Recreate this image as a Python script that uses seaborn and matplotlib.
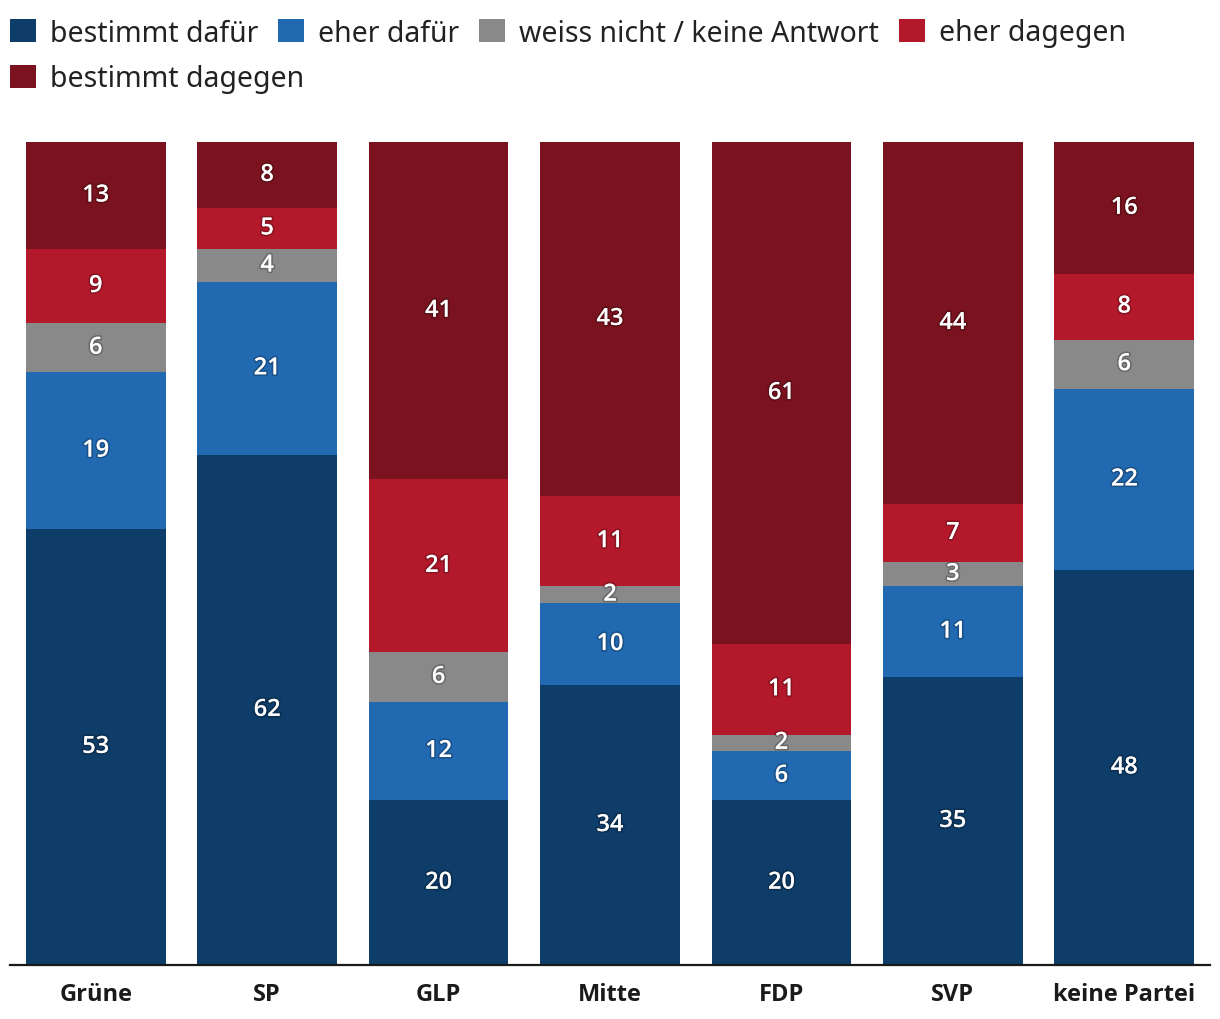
import matplotlib
matplotlib.use("Agg")
import matplotlib.pyplot as plt
import matplotlib.patheffects as pe
from matplotlib.patches import Patch
import seaborn as sns
import pandas as pd
import numpy as np

parties = ["Grüne", "SP", "GLP", "Mitte", "FDP", "SVP", "keine Partei"]
series_names = ["bestimmt dafür", "eher dafür", "weiss nicht / keine Antwort",
                "eher dagegen", "bestimmt dagegen"]
bestimmt_dafuer = [53, 62, 20, 34, 20, 35, 48]
eher_dafuer = [19, 21, 12, 10, 6, 11, 22]
weiss_nicht = [6, 4, 6, 2, 2, 3, 6]
eher_dagegen = [9, 5, 21, 11, 11, 7, 8]
bestimmt_dagegen = [13, 8, 41, 43, 61, 44, 16]
colors = ["#0e3d69", "#216ab1", "#898989", "#b3192b", "#7a131f"]

sns.set_theme(style="white")
FONT = ["Noto Sans", "DejaVu Sans"]
BOLD = ["Open Sans", "DejaVu Sans"]
plt.rcParams["font.family"] = FONT

values = [bestimmt_dafuer, eher_dafuer, weiss_nicht, eher_dagegen, bestimmt_dagegen]
arr = np.array(values, dtype=float)
cum = np.cumsum(arr, axis=0)

fig = plt.figure(figsize=(12.2, 10.2), dpi=100)
ax = fig.add_axes([10 / 1220, 54 / 1020, 1200 / 1220, 823 / 1020])

for i in range(len(series_names) - 1, -1, -1):
    df = pd.DataFrame({"party": parties, "val": cum[i]})
    sns.barplot(data=df, x="party", y="val", order=parties, color=colors[i],
                saturation=1, width=0.815, ax=ax, linewidth=0, zorder=2 + (5 - i))

shadow = [pe.withStroke(linewidth=2.5, foreground=(0, 0, 0, 0.22))]
for j, p in enumerate(parties):
    for i in range(len(series_names)):
        v = arr[i, j]
        bottom = cum[i, j] - v
        ax.text(j, bottom + v / 2, f"{int(v)}", ha="center", va="center",
                color="white", fontsize=17, fontweight="semibold", family=BOLD,
                path_effects=shadow, zorder=20)

ax.set_xlim(-0.5, 6.5)
ax.set_ylim(0, 100)
ax.set_xlabel("")
ax.set_ylabel("")
ax.set_yticks([])
for s in ["top", "left", "right"]:
    ax.spines[s].set_visible(False)
ax.spines["bottom"].set_color("#1a1a1a")
ax.spines["bottom"].set_linewidth(1.6)
ax.spines["bottom"].set_zorder(30)
ax.tick_params(axis="x", length=0, pad=12)
ax.set_xticks(range(len(parties)))
ax.set_xticklabels(parties, fontsize=17, fontweight="bold", family=BOLD, color="#1a1a1a")

handles = [Patch(facecolor=c, edgecolor="none", label=n) for c, n in zip(colors, series_names)]
leg_kw = dict(frameon=False, fontsize=20.5, handlelength=0.9, handleheight=0.9,
              handletextpad=0.5, columnspacing=0.7, borderaxespad=0, borderpad=0,
              labelcolor="#222222")
leg1 = fig.legend(handles=handles[:4], ncol=4, loc="center left",
                  bbox_to_anchor=(10 / 1220, 1 - 34 / 1020), **leg_kw)
leg2 = fig.legend(handles=handles[4:], ncol=1, loc="center left",
                  bbox_to_anchor=(10 / 1220, 1 - 80 / 1020), **leg_kw)

fig.savefig("out.png", dpi=100)
